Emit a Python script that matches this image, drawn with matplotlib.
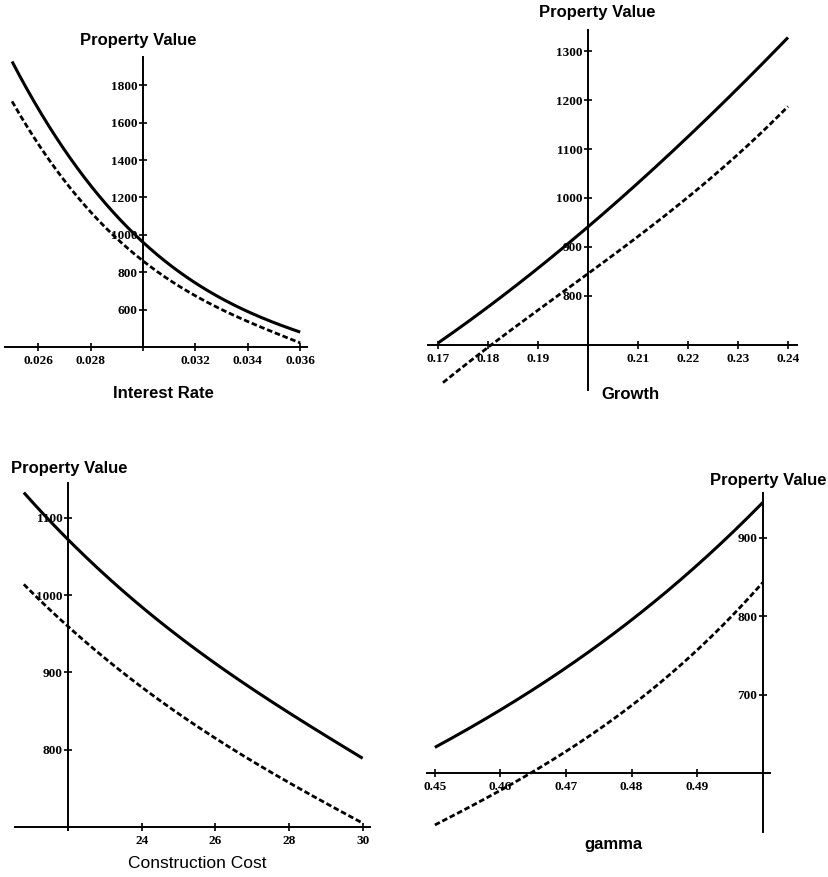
import numpy as np
import matplotlib.pyplot as plt
from matplotlib.ticker import FixedLocator, FormatStrFormatter

# interest rate panel
rate = [0.025, 0.026, 0.027, 0.028, 0.029, 0.030, 0.031, 0.032, 0.033, 0.034, 0.035, 0.036]
rate_solid = [1920, 1680, 1460, 1270, 1100, 945, 835, 745, 665, 595, 532, 475]
rate_dash = [1710, 1488, 1295, 1125, 978, 849, 760, 678, 603, 537, 477, 421]

# growth panel
growth = [0.17, 0.18, 0.19, 0.20, 0.21, 0.22, 0.23, 0.24]
growth_solid = [705, 776, 855, 943, 1033, 1124, 1222, 1329]
growth_x_dash = [0.171, 0.18, 0.19, 0.20, 0.21, 0.22, 0.23, 0.24]
growth_dash = [622, 697, 771, 845, 920, 1002, 1091, 1186]

# construction cost panel
cost = [20.8, 22, 24, 26, 28, 30]
cost_solid = [1133, 1071, 985, 912, 847, 789]
cost_dash = [1014, 959, 881, 815, 757, 705]

# gamma panel
gamma = [0.45, 0.46, 0.47, 0.48, 0.49, 0.50]
gamma_solid = [633, 680, 735, 795, 865, 945]
gamma_dash = [534, 578, 628, 686, 757, 843]

W, H = 829, 877
fig = plt.figure(figsize=(W / 100, H / 100), dpi=100, facecolor='white')

label_font = dict(family='Liberation Sans', weight='bold', fontsize=12)


def make_axes(px_left, px_right, px_top, px_bottom):
    return fig.add_axes([px_left / W, 1 - px_bottom / H,
                         (px_right - px_left) / W, (px_bottom - px_top) / H])


def smooth(x, y):
    xs = np.linspace(x[0], x[-1], 200)
    c = np.polyfit(x, y, 3)
    return xs, np.polyval(c, xs)


def style(ax, x0, y0, xt, yt, xfmt, yfmt):
    for s in ['top', 'right']:
        ax.spines[s].set_visible(False)
    ax.spines['left'].set_position(('data', x0))
    ax.spines['bottom'].set_position(('data', y0))
    ax.spines['left'].set_linewidth(1.4)
    ax.spines['bottom'].set_linewidth(1.4)
    ax.xaxis.set_major_locator(FixedLocator(xt))
    ax.yaxis.set_major_locator(FixedLocator(yt))
    ax.xaxis.set_major_formatter(FormatStrFormatter(xfmt))
    ax.yaxis.set_major_formatter(FormatStrFormatter(yfmt))
    ax.tick_params(direction='inout', length=6, width=1.2, pad=1)
    ax.tick_params(axis='x', pad=3)
    ax.patch.set_alpha(0)


def fix_labels(ax):
    for lab in ax.get_xticklabels() + ax.get_yticklabels():
        lab.set_fontfamily('Liberation Serif')
        lab.set_fontweight('bold')
        lab.set_fontsize(9.5)


def draw(ax, xs, ys, xd, yd):
    a, b = smooth(xs, ys)
    ax.plot(a, b, color='black', lw=2.2, solid_capstyle='butt')
    a, b = smooth(xd, yd)
    ax.plot(a, b, color='black', lw=2.0, dashes=(2, 1))


# panel 1
ax1 = make_axes(5, 307, 57, 347)
ax1.set_xlim(0.02473, 0.03626)
ax1.set_ylim(400, 1951)
draw(ax1, rate, rate_solid, rate, rate_dash)
style(ax1, 0.030, 400, [0.026, 0.028, 0.030, 0.032, 0.034, 0.036],
      [600, 800, 1000, 1200, 1400, 1600, 1800], '%.3f', '%d')
ax1.set_xticklabels(['0.026', '0.028', '', '0.032', '0.034', '0.036'])
fix_labels(ax1)

# panel 2
ax2 = make_axes(428, 797, 30, 390)
ax2.set_xlim(0.168, 0.2418)
ax2.set_ylim(608, 1343)
draw(ax2, growth, growth_solid, growth_x_dash, growth_dash)
style(ax2, 0.20, 700, [0.17, 0.18, 0.19, 0.20, 0.21, 0.22, 0.23, 0.24],
      [800, 900, 1000, 1100, 1200, 1300], '%.2f', '%d')
ax2.set_xticklabels(['0.17', '0.18', '0.19', '', '0.21', '0.22', '0.23', '0.24'])
fix_labels(ax2)

# panel 3
ax3 = make_axes(15, 370, 483, 830)
ax3.set_xlim(20.56, 30.2)
ax3.set_ylim(696, 1145)
draw(ax3, cost, cost_solid, cost, cost_dash)
style(ax3, 22, 700, [22, 24, 26, 28, 30], [800, 900, 1000, 1100], '%d', '%d')
ax3.set_xticklabels(['', '24', '26', '28', '30'])
fix_labels(ax3)

# panel 4
ax4 = make_axes(427, 770, 493, 832)
ax4.set_xlim(0.4488, 0.5011)
ax4.set_ylim(525, 957)
draw(ax4, gamma, gamma_solid, gamma, gamma_dash)
style(ax4, 0.50, 600, [0.45, 0.46, 0.47, 0.48, 0.49, 0.50], [700, 800, 900], '%.2f', '%d')
ax4.set_xticklabels(['0.45', '0.46', '0.47', '0.48', '0.49', ''])
fix_labels(ax4)

# axis titles
fig.text(138 / W, 1 - 41 / H, 'Property Value', ha='center', va='center', **label_font)
fig.text(597 / W, 1 - 13 / H, 'Property Value', ha='center', va='center', **label_font)
fig.text(11 / W, 1 - 469 / H, 'Property Value', ha='left', va='center', **label_font)
fig.text(827 / W, 1 - 480 / H, 'Property Value', ha='right', va='center', **label_font)
fig.text(163 / W, 1 - 393 / H, 'Interest Rate', ha='center', va='center', **label_font)
fig.text(630 / W, 1 - 395 / H, 'Growth', ha='center', va='center', **label_font)
fig.text(197 / W, 1 - 863 / H, 'Construction Cost', ha='center', va='center',
         family='Liberation Sans', fontsize=12.5)
fig.text(613 / W, 1 - 845 / H, 'gamma', ha='center', va='center', **label_font)

fig.savefig('out.png', dpi=100, facecolor='white')
